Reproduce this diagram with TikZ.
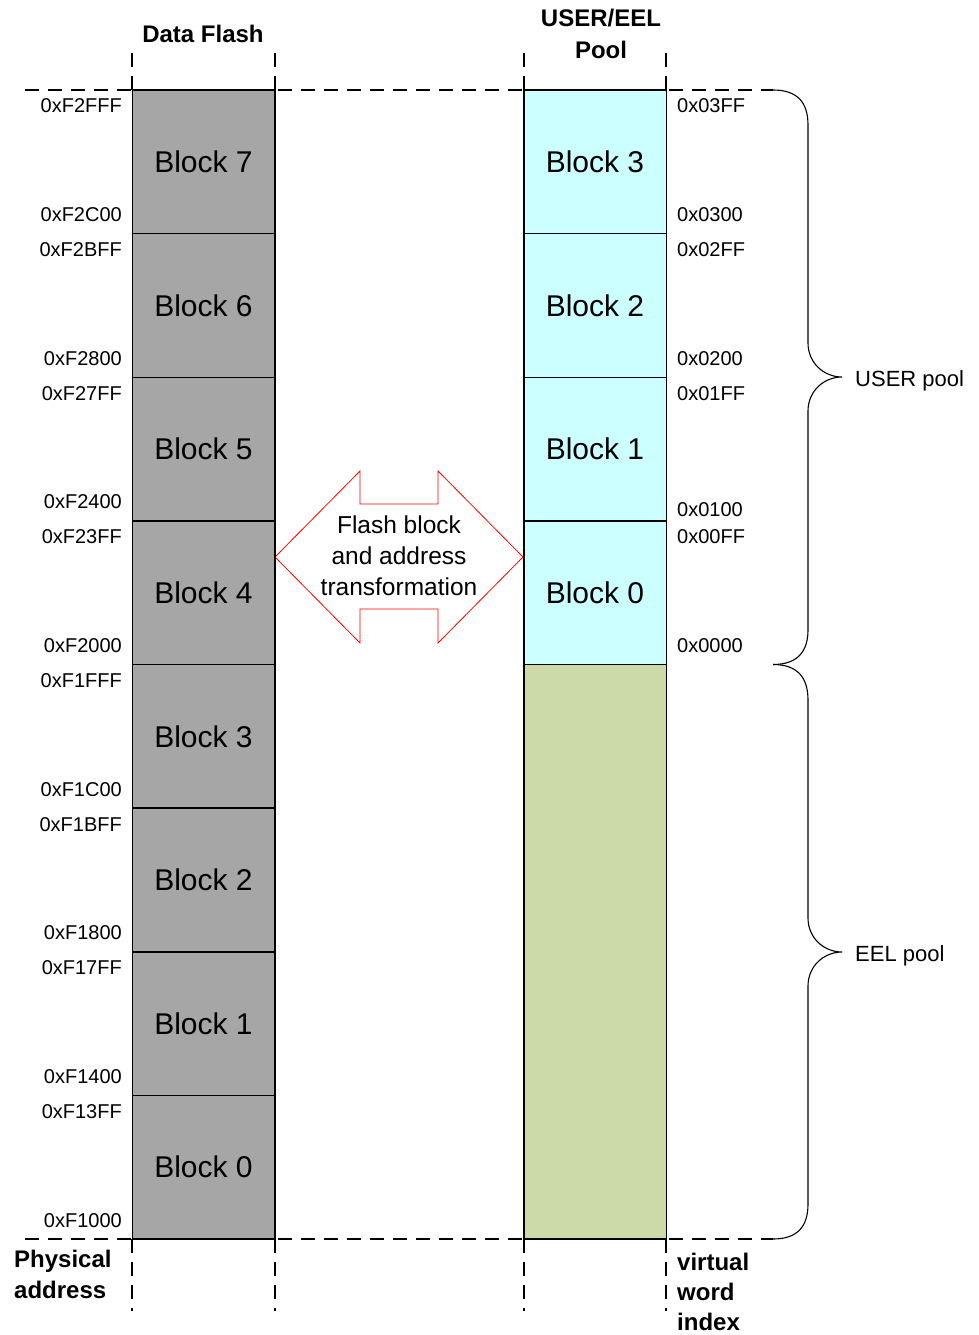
\documentclass[tikz,border=0pt]{standalone}
\usepackage{fontspec}
\setmainfont{Liberation Sans}
\definecolor{blkgray}{HTML}{A6A6A6}
\definecolor{blkcyan}{HTML}{CCFFFF}
\definecolor{blkgreen}{HTML}{CCDAA8}
\begin{document}
\begin{tikzpicture}[x=1pt,y=-1pt,
  blockbox/.style={draw=black,line width=1.5pt,inner sep=0pt,outer sep=0pt,
    minimum width=142.5pt,minimum height=143.625pt,
    font=\fontsize{30}{30}\selectfont},
  dashln/.style={line width=1.3pt,dash pattern=on 14pt off 9pt},
  addr/.style={font=\fontsize{20}{20}\selectfont,inner sep=0pt},
  headtxt/.style={font=\fontsize{24}{26}\bfseries\selectfont,inner sep=0pt},
  midtxt/.style={font=\fontsize{24.5}{26}\selectfont,inner sep=0pt,anchor=base},
  pooltxt/.style={font=\fontsize{22}{24}\selectfont,inner sep=0pt,anchor=base west},
  bracel/.style={line width=1.1pt}]
\useasboundingbox (0,0) rectangle (979,1335);

% dashed guide lines
\coordinate (tl) at (25,90);
\coordinate (tr) at (773,90);
\coordinate (bl) at (25,1239);
\coordinate (br) at (773,1239);
\draw[dashln] (tl) -- (tr);
\draw[dashln] (bl) -- (br);
\foreach \xx [count=\i] in {132,275,524,666}{
  \coordinate (vt\i) at (\xx,53);
  \coordinate (vtb\i) at (\xx,90);
  \coordinate (vb\i) at (\xx,1239);
  \coordinate (vbb\i) at (\xx,1311);
  \draw[dashln] (vt\i) -- (vtb\i);
  \draw[dashln] (vb\i) -- (vbb\i);
}

% transformation double arrow
\draw[red,line width=0.8pt,fill=white] (275,557) -- (360,471) -- (360,504) -- (438,504) -- (438,471)
  -- (523,557) -- (438,643) -- (438,609) -- (360,609) -- (360,643) -- cycle;
\node[midtxt] (ft1) at (399,533) {Flash block};
\node[midtxt] (ft2) at (399,564) {and address};
\node[midtxt] (ft3) at (399,595) {transformation};

% left column blocks
\foreach \n [count=\k from 0] in {7,6,5,4,3,2,1,0}{
  \node[blockbox,fill=blkgray] (L\n) at (203.5,{90+143.625*(\k+0.5)}) {Block \n};
}
% right column blocks
\foreach \n [count=\k from 0] in {3,2,1,0}{
  \node[blockbox,fill=blkcyan] (R\n) at (595,{90+143.625*(\k+0.5)}) {Block \n};
}
\node[draw=black,line width=1.5pt,fill=blkgreen,inner sep=0pt,outer sep=0pt,
  minimum width=142.5pt,minimum height=574.5pt] (eel) at (595,951.75) {};

% left addresses
\foreach \t/\b [count=\k from 0] in {F2FFF/F2C00,F2BFF/F2800,F27FF/F2400,F23FF/F2000,F1FFF/F1C00,F1BFF/F1800,F17FF/F1400,F13FF/F1000}{
  \node[addr,anchor=base east] (lat\k) at (122,{90+143.625*\k+23}) {0x\t};
  \node[addr,anchor=base east] (lab\k) at (122,{90+143.625*(\k+1)-12}) {0x\b};
}
% right addresses
\foreach \t/\b/\dy [count=\k from 0] in {03FF/0300/0,02FF/0200/0,01FF/0100/8,00FF/0000/0}{
  \node[addr,anchor=base west] (rat\k) at (677,{90+143.625*\k+23}) {0x\t};
  \node[addr,anchor=base west] (rab\k) at (677,{90+143.625*(\k+1)-12+\dy}) {0x\b};
}

% headings
\node[headtxt,anchor=base] (hdf) at (203,43) {Data Flash};
\node[headtxt,anchor=base] (hue1) at (601,27) {USER/EEL};
\node[headtxt,anchor=base] (hue2) at (601,59) {Pool};
\node[headtxt,anchor=base west] (pa1) at (14,1267) {Physical};
\node[headtxt,anchor=base west] (pa2) at (14,1298) {address};
\node[headtxt,anchor=base west] (vw1) at (677,1270) {virtual};
\node[headtxt,anchor=base west] (vw2) at (677,1300) {word};
\node[headtxt,anchor=base west] (vw3) at (677,1330) {index};

% braces
\coordinate (um) at (773,664.5);
\draw[bracel] (tr) .. controls (797,90) and (808,102) .. (808,125) -- (808,343)
  .. controls (808,363) and (824,377) .. (842,377)
  .. controls (824,377) and (808,391) .. (808,411) -- (808,630)
  .. controls (808,652) and (797,664.5) .. (um);
\draw[bracel] (um) .. controls (797,664.5) and (808,677) .. (808,700) -- (808,918)
  .. controls (808,938) and (824,952) .. (842,952)
  .. controls (824,952) and (808,966) .. (808,986) -- (808,1204)
  .. controls (808,1227) and (797,1239) .. (br);
\node[pooltxt] (up) at (855,386) {USER pool};
\node[pooltxt] (ep) at (855,961) {EEL pool};
\end{tikzpicture}
\end{document}
